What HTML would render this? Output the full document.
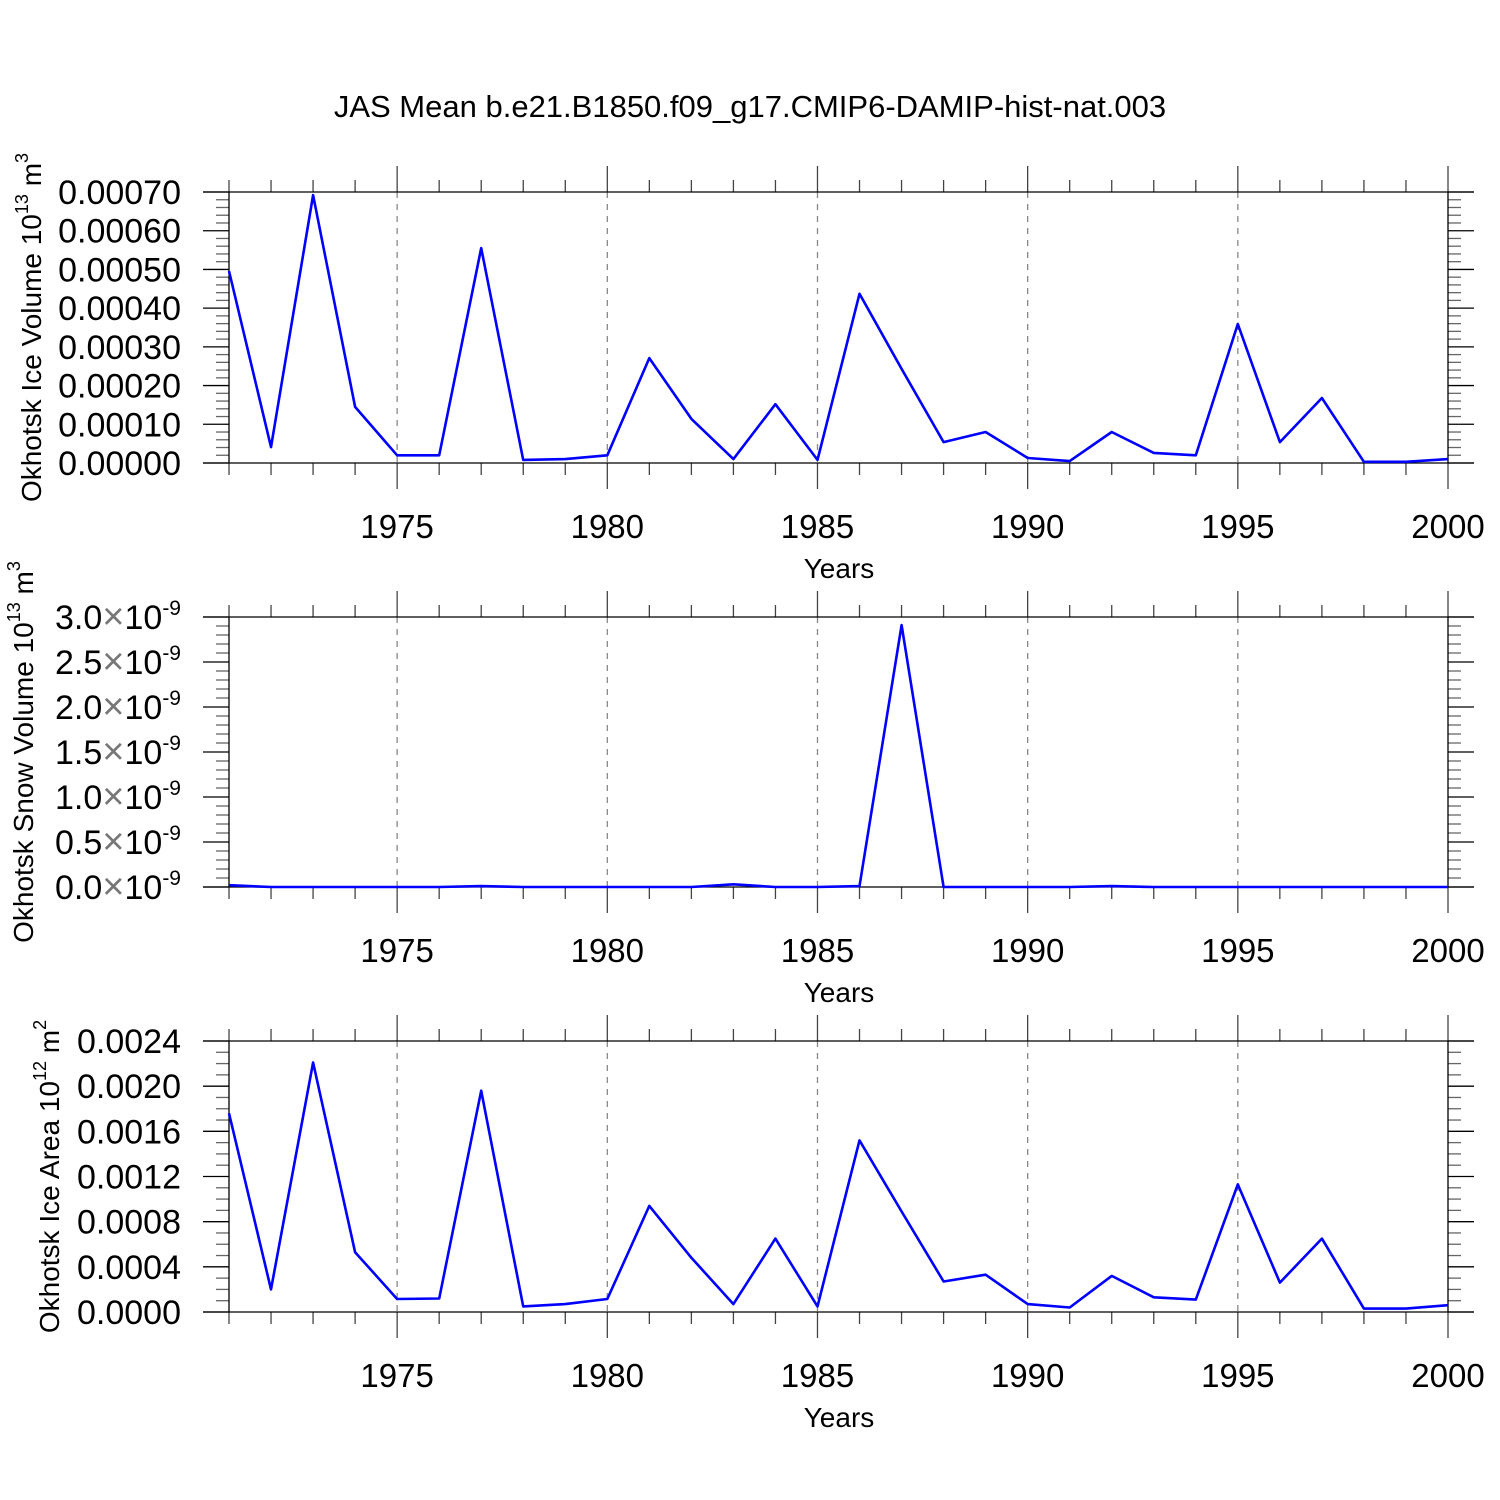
<!DOCTYPE html>
<html><head><meta charset="utf-8"><style>
html,body{margin:0;padding:0;background:#fff}
svg{display:block;font-family:"Liberation Sans",sans-serif}
</style></head><body>
<svg id="chart" width="1500" height="1500" viewBox="0 0 1500 1500" xmlns="http://www.w3.org/2000/svg">
<rect width="1500" height="1500" fill="#fff"/>
<text x="750" y="117" font-size="31" text-anchor="middle">JAS Mean b.e21.B1850.f09_g17.CMIP6-DAMIP-hist-nat.003</text>
</svg>
<script>
const years = [1971,1972,1973,1974,1975,1976,1977,1978,1979,1980,1981,1982,1983,1984,1985,1986,1987,1988,1989,1990,1991,1992,1993,1994,1995,1996,1997,1998,1999,2000];
const iceVolume = [0.000496,0.000041,0.000692,0.000145,0.00002,0.00002,0.000555,0.000008,0.00001,0.00002,0.000271,0.000114,0.00001,0.000152,0.000008,0.000437,0.000243,0.000054,0.00008,0.000013,0.000005,0.00008,0.000026,0.00002,0.000359,0.000054,0.000168,0.000003,0.000003,0.00001];
const snowVolume = [0.02,0,0,0,0,0,0.01,0,0,0,0,0,0.03,0,0,0.01,2.91,0,0,0,0,0.01,0,0,0,0,0,0,0,0];
const iceArea = [0.00176,0.0002,0.00221,0.00053,0.000115,0.00012,0.00196,0.00005,0.00007,0.000115,0.00094,0.00048,0.00007,0.00065,0.00005,0.00152,0.00089,0.00027,0.00033,0.00007,0.00004,0.00032,0.00013,0.00011,0.00113,0.00026,0.00065,0.00003,0.00003,0.00006];
const yearTicks = [1975,1980,1985,1990,1995,2000];
const volTicks = [0,0.0001,0.0002,0.0003,0.0004,0.0005,0.0006,0.0007];
const volLabels = ["0.00000","0.00010","0.00020","0.00030","0.00040","0.00050","0.00060","0.00070"];
const snowTicks = [0,0.5,1,1.5,2,2.5,3];
const snowLabels = ["0.0","0.5","1.0","1.5","2.0","2.5","3.0"];
const areaTicks = [0,0.0004,0.0008,0.0012,0.0016,0.002,0.0024];
const areaLabels = ["0.0000","0.0004","0.0008","0.0012","0.0016","0.0020","0.0024"];

const svg = document.getElementById('chart');
const NS = 'http://www.w3.org/2000/svg';
const XL = 229, XR = 1448;
function xs(yr){ return XL + (yr - 1971) * (XR - XL) / 29; }
function mk(tag, attrs, parent){
  const e = document.createElementNS(NS, tag);
  for (const k in attrs) e.setAttribute(k, attrs[k]);
  (parent || svg).appendChild(e);
  return e;
}
function panel(opts){
  const {top, bot, ymax, ticks, labels, minorN, values, name, title, titleSup, titleUnit, titleX, snow} = opts;
  const g = mk('g', {});
  
  
  const ys = v => bot - v / ymax * (bot - top);
  yearTicks.slice(0,5).forEach(yr => {
    const l = mk('line', {x1: xs(yr), x2: xs(yr), y1: top, y2: bot, stroke: '#888', 'stroke-width': 1.3, 'stroke-dasharray': '6,6'}, g);
    
    
  });
  for (let yr = 1971; yr <= 2000; yr++) {
    const major = yr % 5 === 0;
    const len = major ? 26 : 12;
    mk('line', {x1: xs(yr), x2: xs(yr), y1: top - len, y2: top, stroke: '#444', 'stroke-width': 1.3}, g);
    mk('line', {x1: xs(yr), x2: xs(yr), y1: bot, y2: bot + len, stroke: '#444', 'stroke-width': 1.3}, g);
  }
  const step = ticks[1] - ticks[0];
  for (let i = 0; i < ticks.length; i++) {
    const y = ys(ticks[i]);
    mk('line', {x1: 203, x2: XL, y1: y, y2: y, stroke: '#000', 'stroke-width': 1.3}, g);
    mk('line', {x1: XR, x2: 1474, y1: y, y2: y, stroke: '#000', 'stroke-width': 1.3}, g);
    if (i < ticks.length - 1) {
      for (let m = 1; m <= minorN; m++) {
        const ym = ys(ticks[i] + step * m / (minorN + 1));
        mk('line', {x1: 216, x2: XL, y1: ym, y2: ym, stroke: '#666', 'stroke-width': 1.3}, g);
        mk('line', {x1: XR, x2: 1461, y1: ym, y2: ym, stroke: '#666', 'stroke-width': 1.3}, g);
      }
    }
    const t = mk('text', {x: 181, y: y + 12, 'font-size': 34, 'text-anchor': 'end'}, g);
    
    
    if (snow) {
      const a = mk('tspan', {}, t); a.textContent = labels[i];
      const b = mk('tspan', {fill: '#777', 'font-size': 38}, t); b.textContent = '×';
      const c = mk('tspan', {}, t); c.textContent = '10';
      const d = mk('tspan', {'font-size': 21, dy: -14}, t); d.textContent = '-9';
    } else t.textContent = labels[i];
  }
  mk('line', {x1: 203, x2: 1474, y1: top, y2: top, stroke: '#000', 'stroke-width': 1.3}, g);
  mk('line', {x1: 203, x2: 1474, y1: bot, y2: bot, stroke: '#000', 'stroke-width': 1.3}, g);
  mk('line', {x1: XL, x2: XL, y1: top, y2: bot, stroke: '#000', 'stroke-width': 1.3}, g);
  mk('line', {x1: XR, x2: XR, y1: top, y2: bot, stroke: '#000', 'stroke-width': 1.3}, g);
  yearTicks.forEach(yr => {
    const t = mk('text', {x: xs(yr), y: bot + 75, 'font-size': 33, 'text-anchor': 'middle'}, g);
    
    
    t.textContent = yr;
  });
  const xt = mk('text', {x: 839, y: bot + 115, 'font-size': 28, 'text-anchor': 'middle'}, g);
  
  
  xt.textContent = 'Years';
  const cy = (top + bot) / 2;
  const yt = mk('text', {x: 0, y: 0, 'font-size': 28, 'text-anchor': 'middle', transform: `translate(${titleX},${cy}) rotate(-90)`}, g);
  
  
  const s1 = mk('tspan', {}, yt); s1.textContent = title + ' 10';
  const s2 = mk('tspan', {'font-size': 18, dy: -13}, yt); s2.textContent = titleSup;
  const s3 = mk('tspan', {dy: 13}, yt); s3.textContent = ' m';
  const s4 = mk('tspan', {'font-size': 18, dy: -13}, yt); s4.textContent = titleUnit;
  const pts = years.map((yr, i) => xs(yr).toFixed(1) + ',' + ys(values[i]).toFixed(1)).join(' ');
  const pl = mk('polyline', {points: pts, fill: 'none', stroke: '#0000ff', 'stroke-width': 2.6, 'stroke-linejoin': 'round'}, g);
  
  
}
panel({top: 192, bot: 463, ymax: 0.0007, ticks: volTicks, labels: volLabels, minorN: 4, values: iceVolume, name: 'ice-volume', title: 'Okhotsk Ice Volume', titleSup: '13', titleUnit: '3', titleX: 41});
panel({top: 617, bot: 887, ymax: 3, ticks: snowTicks, labels: snowLabels, minorN: 4, values: snowVolume, name: 'snow-volume', title: 'Okhotsk Snow Volume', titleSup: '13', titleUnit: '3', titleX: 33, snow: true});
panel({top: 1041, bot: 1312, ymax: 0.0024, ticks: areaTicks, labels: areaLabels, minorN: 3, values: iceArea, name: 'ice-area', title: 'Okhotsk Ice Area', titleSup: '12', titleUnit: '2', titleX: 59});
</script>
</body></html>
